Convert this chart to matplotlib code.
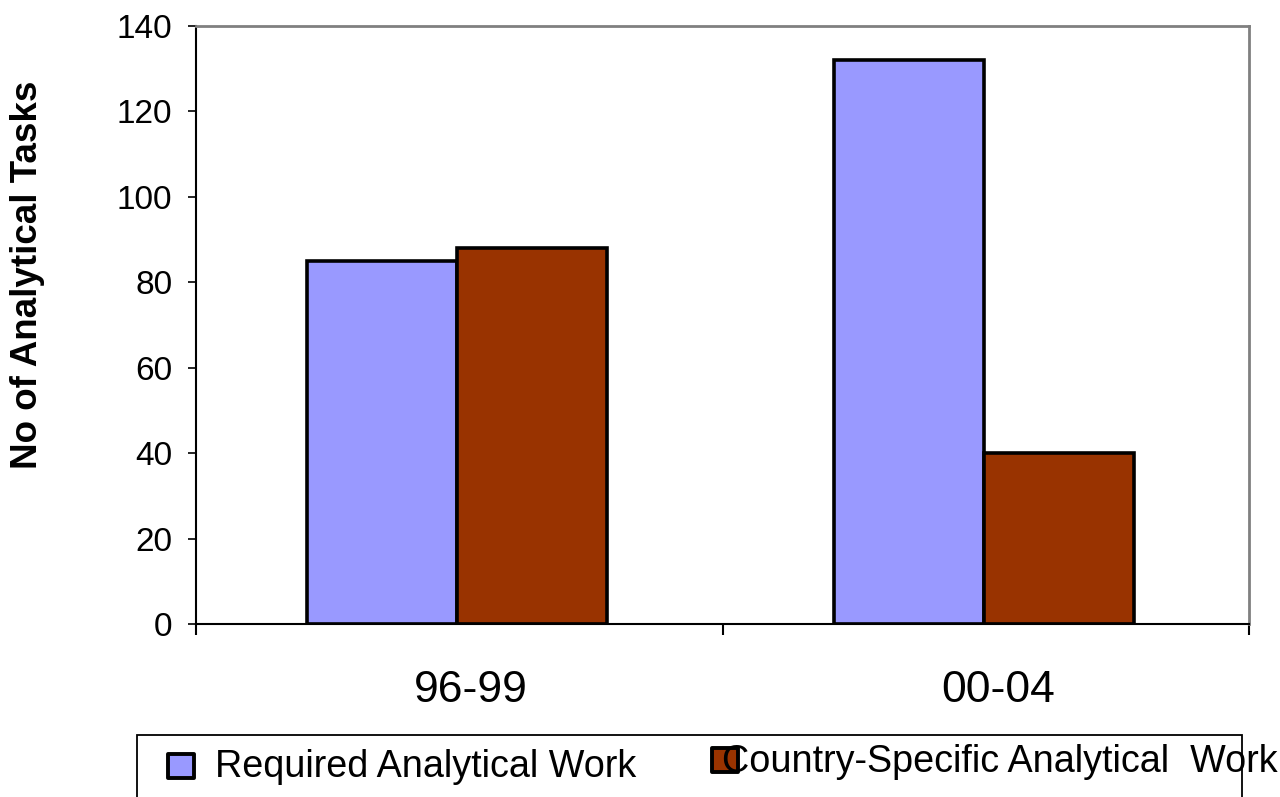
import numpy as np
import matplotlib
matplotlib.use('Agg')
import matplotlib.pyplot as plt
import matplotlib.transforms as mtransforms
from matplotlib.patches import Rectangle

plt.rcParams['font.family'] = ['Liberation Sans', 'DejaVu Sans']

periods = ['96-99', '00-04']
required = [85, 132]
country_specific = [88, 40]
series_names = ['Required Analytical Work', 'Country-Specific Analytical  Work']
colors = ['#9999FF', '#993300']

W, H = 1280, 797
fig = plt.figure(figsize=(W / 100, H / 100), dpi=100)


def fx(x):
    return x / W


def fy(y):
    return 1 - y / H


ax = fig.add_axes([fx(196), fy(624), fx(1249) - fx(196), fy(26) - fy(624)])

x = np.arange(len(periods))
w = 0.285
ax.bar(x - w / 2 - 0.004, required, w, color=colors[0], edgecolor='black', linewidth=2.6)
ax.bar(x + w / 2 - 0.004, country_specific, w, color=colors[1], edgecolor='black', linewidth=2.6)

ax.set_xlim(-0.5, len(periods) - 0.5)
ax.set_ylim(0, 140)
ax.set_yticks(np.arange(0, 141, 20))
ax.tick_params(axis='y', direction='out', length=6, width=1.2, labelsize=24, pad=11)

# category boundaries get the tick marks, labels sit in between
ax.set_xticks(np.arange(-0.5, len(periods), 1.0))
ax.set_xticklabels([])
ax.tick_params(axis='x', which='major', direction='out', length=8, width=1.5)
ax.set_xticks(x, minor=True)
ax.set_xticklabels(periods, minor=True, fontsize=32)
ax.tick_params(axis='x', which='minor', length=0, pad=33)
shift = mtransforms.ScaledTranslation(0.12, 0, fig.dpi_scale_trans)
for lbl in ax.get_xticklabels(minor=True):
    lbl.set_transform(lbl.get_transform() + shift)

for side in ['left', 'bottom']:
    ax.spines[side].set_color('black')
    ax.spines[side].set_linewidth(1.5)
for side in ['top', 'right']:
    ax.spines[side].set_color('#808080')
    ax.spines[side].set_linewidth(2)

fig.text(fx(28), fy(275), 'No of Analytical Tasks', rotation=90, fontsize=26.5,
         fontweight='bold', ha='center', va='center')

# legend box, running off the bottom edge
fig.add_artist(Rectangle((fx(137), fy(810)), fx(1242) - fx(137), fy(735) - fy(810),
                         transform=fig.transFigure, fill=False, edgecolor='black',
                         linewidth=1.3))
fig.add_artist(Rectangle((fx(168), fy(778)), fx(26), fy(754) - fy(778),
                         transform=fig.transFigure, facecolor=colors[0],
                         edgecolor='black', linewidth=2.8, joinstyle='round'))
fig.text(fx(215), fy(767), series_names[0], fontsize=27.2, ha='left', va='center')
fig.add_artist(Rectangle((fx(712), fy(772)), fx(26), fy(748) - fy(772),
                         transform=fig.transFigure, facecolor=colors[1],
                         edgecolor='black', linewidth=2.8, joinstyle='round'))
fig.text(fx(722), fy(762), series_names[1], fontsize=27.2, ha='left', va='center')

plt.savefig('out.png', dpi=100)
